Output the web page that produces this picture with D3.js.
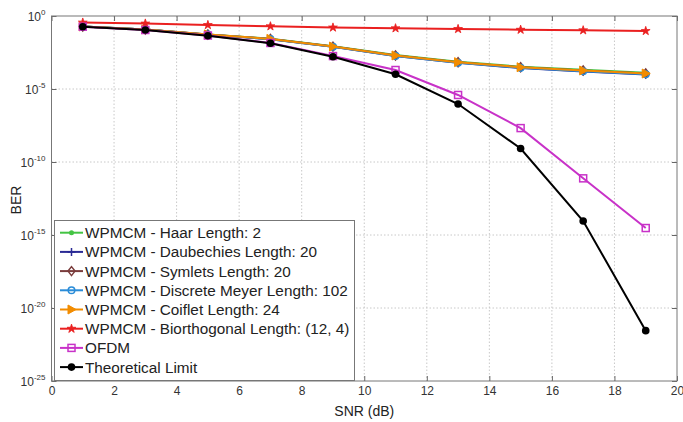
<!DOCTYPE html>
<html><head><meta charset="utf-8">
<script src="https://cdn.jsdelivr.net/npm/d3@7/dist/d3.min.js"></script>
<style>body{margin:0;background:#fff}svg{display:block;font-family:"Liberation Sans",Arial,sans-serif}</style>
</head><body><svg id="c" width="683" height="422"></svg>
<script>
const snr = [1,3,5,7,9,11,13,15,17,19];
const seriesNames = ["WPMCM - Haar Length: 2","WPMCM - Daubechies Length: 20","WPMCM - Symlets Length: 20","WPMCM - Discrete Meyer Length: 102","WPMCM - Coiflet Length: 24","WPMCM - Biorthogonal Length: (12, 4)","OFDM","Theoretical Limit"];
const haar = [0.19,0.12,0.055,0.028,8.4e-3,2.1e-3,7.4e-4,3.4e-4,2.05e-4,1.28e-4];
const daubechies = [0.19,0.118,0.053,0.026,7.7e-3,1.85e-3,6.2e-4,2.7e-4,1.6e-4,1.0e-4];
const symlets = [0.19,0.119,0.054,0.0265,8.0e-3,1.95e-3,6.8e-4,3.1e-4,1.85e-4,1.15e-4];
const meyer = [0.19,0.118,0.053,0.026,7.8e-3,1.85e-3,6.3e-4,2.8e-4,1.65e-4,1.02e-4];
const coiflet = [0.191,0.12,0.055,0.027,8.1e-3,1.98e-3,6.9e-4,3.1e-4,1.85e-4,1.15e-4];
const biorthogonal = [0.355,0.306,0.242,0.197,0.163,0.144,0.129,0.115,0.105,0.094];
const ofdm = [0.185,0.11,0.046,0.0142,1.8e-3,2.0e-4,3.9e-6,2.1e-8,7.6e-12,3.0e-15];
const theoretical = [0.185,0.11,0.0448,0.0135,1.63e-3,1.02e-4,9.4e-7,8.4e-10,9.1e-15,2.8e-22];
const xTicks = [0,2,4,6,8,10,12,14,16,18,20];
const yTickExps = [0,-5,-10,-15,-20,-25];

const allSeries = [haar,daubechies,symlets,meyer,coiflet,biorthogonal,ofdm,theoretical];
const colors = ["#44c444","#2a2a95","#7a3c3c","#2a8cd8","#f28c00","#ea2020","#c832c8","#000000"];
const markers = ["dot","plus","diamond","circle","tri","star","square","fill"];

const svg = d3.select("#c");
const L=51.5, R=677, T=16, B=381;
const x = d3.scaleLinear().domain([0,20]).range([L,R]);
const y = d3.scaleLog().domain([1,1e-25]).range([T,B]);

// grid
const g = svg.append("g");
g.selectAll(".gx").data(xTicks.slice(1,-1)).join("line")
 .attr("x1",d=>x(d)).attr("x2",d=>x(d)).attr("y1",T).attr("y2",B)
 .attr("stroke","#c8c8c8").attr("stroke-dasharray","1.5,2").attr("stroke-width",1);
g.selectAll(".gy").data(yTickExps.slice(1,-1)).join("line")
 .attr("x1",L).attr("x2",R).attr("y1",d=>y(Math.pow(10,d))).attr("y2",d=>y(Math.pow(10,d)))
 .attr("stroke","#c8c8c8").attr("stroke-dasharray","1.5,2").attr("stroke-width",1);

// axes
const xAxis = d3.axisBottom(x).tickValues(xTicks).tickSize(-5).tickPadding(5).tickFormat(d3.format("d"));
const gx = svg.append("g").attr("transform",`translate(0,${B})`).call(xAxis);
gx.select(".domain").remove();
gx.selectAll("line").attr("stroke","#666");
gx.selectAll("text").attr("font-size",12).attr("fill","#333");
const xTop = d3.axisTop(x).tickValues(xTicks).tickSize(-5).tickFormat("");
const gxt = svg.append("g").attr("transform",`translate(0,${T})`).call(xTop);
gxt.select(".domain").remove(); gxt.selectAll("line").attr("stroke","#666");

const yAxis = d3.axisLeft(y).tickValues(yTickExps.map(e=>Math.pow(10,e))).tickSize(-5).tickPadding(6).tickFormat("");
const gy = svg.append("g").attr("transform",`translate(${L},0)`).call(yAxis);
gy.select(".domain").remove(); gy.selectAll("line").attr("stroke","#666");
const yR = d3.axisRight(y).tickValues(yTickExps.map(e=>Math.pow(10,e))).tickSize(-5).tickFormat("");
const gyr = svg.append("g").attr("transform",`translate(${R},0)`).call(yR);
gyr.select(".domain").remove(); gyr.selectAll("line").attr("stroke","#666");

gy.selectAll(".tick").each(function(d){
  const e = Math.round(Math.log10(d));
  const t = d3.select(this).append("text").attr("x",-6).attr("y",4).attr("text-anchor","end")
    .attr("font-size",12).attr("fill","#333");
  t.append("tspan").text("10");
  t.append("tspan").attr("dy",-6).attr("font-size",8).text(e===0?"0":"-"+(-e));
});

svg.append("rect").attr("x",L).attr("y",T).attr("width",R-L).attr("height",B-T)
 .attr("fill","none").attr("stroke","#777").attr("stroke-width",1);

// labels
svg.append("text").attr("x",(L+R)/2).attr("y",416).attr("text-anchor","middle").attr("font-size",14).attr("fill","#222").text("SNR (dB)");
svg.append("text").attr("transform","translate(21,200) rotate(-90)").attr("text-anchor","middle").attr("font-size",14).attr("fill","#222").text("BER");

function drawMarker(sel, type, color, cx, cy){
  if(type==="dot") sel.append("circle").attr("cx",cx).attr("cy",cy).attr("r",2.5).attr("fill",color);
  else if(type==="fill") sel.append("circle").attr("cx",cx).attr("cy",cy).attr("r",3.8).attr("fill",color);
  else if(type==="plus") sel.append("path").attr("d",`M${cx-4},${cy}H${cx+4}M${cx},${cy-4}V${cy+4}`).attr("stroke",color).attr("stroke-width",1.5);
  else if(type==="circle") sel.append("circle").attr("cx",cx).attr("cy",cy).attr("r",3.3).attr("fill","none").attr("stroke",color).attr("stroke-width",1.5);
  else if(type==="diamond") sel.append("path").attr("d",`M${cx},${cy-4.5}L${cx+3.5},${cy}L${cx},${cy+4.5}L${cx-3.5},${cy}Z`).attr("fill","none").attr("stroke",color).attr("stroke-width",1.5);
  else if(type==="square") sel.append("rect").attr("x",cx-3.5).attr("y",cy-3.5).attr("width",7).attr("height",7).attr("fill","none").attr("stroke",color).attr("stroke-width",1.5);
  else if(type==="tri") sel.append("path").attr("d",`M${cx-3.5},${cy-4.5}L${cx+4.5},${cy}L${cx-3.5},${cy+4.5}Z`).attr("fill",color).attr("stroke",color).attr("stroke-width",1);
  else if(type==="star") sel.append("path").attr("transform",`translate(${cx},${cy})`).attr("d",d3.symbol(d3.symbolStar,24)()).attr("fill",color).attr("stroke",color).attr("stroke-width",0.8);
}

const line = d3.line().x((d,i)=>x(snr[i])).y(d=>y(d));
const plot = svg.append("g");
allSeries.forEach((s,k)=>{
  const gg = plot.append("g");
  gg.append("path").datum(s).attr("d",line).attr("fill","none").attr("stroke",colors[k]).attr("stroke-width",2);
  s.forEach((v,i)=>drawMarker(gg, markers[k], colors[k], x(snr[i]), y(v)));
});

// legend
const lg = svg.append("g");
lg.append("rect").attr("x",54.5).attr("y",220.5).attr("width",300).attr("height",160).attr("fill","#fff").attr("stroke","#777");
seriesNames.forEach((n,k)=>{
  const cy = 232.7 + k*19.2;
  lg.append("line").attr("x1",60).attr("x2",83).attr("y1",cy).attr("y2",cy).attr("stroke",colors[k]).attr("stroke-width",2);
  drawMarker(lg, markers[k], colors[k], 71.5, cy);
  lg.append("text").attr("x",85).attr("y",cy+5.5).attr("font-size",15.3).attr("fill","#222").text(n);
});
</script></body></html>
